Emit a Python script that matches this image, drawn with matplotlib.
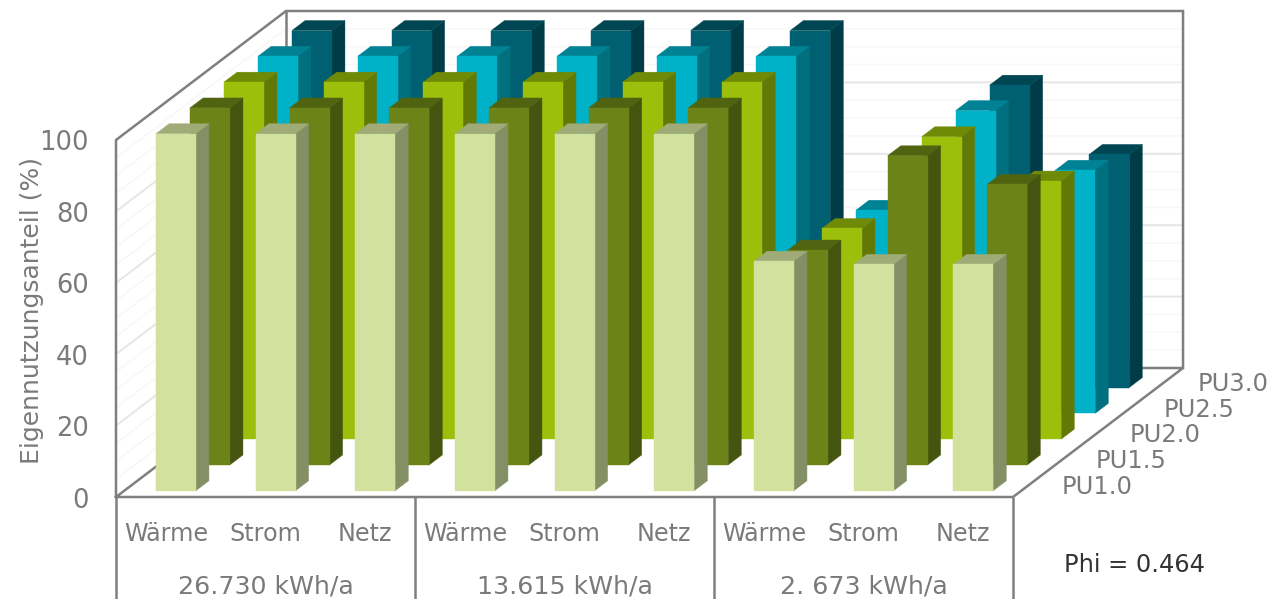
import matplotlib
matplotlib.use("Agg")
import matplotlib.pyplot as plt
from matplotlib.patches import Polygon

# Chart data
groups = ["26.730 kWh/a", "13.615 kWh/a", "2. 673 kWh/a"]
measures = ["Wärme", "Strom", "Netz"]
series_names = ["PU1.0", "PU1.5", "PU2.0", "PU2.5", "PU3.0"]
pu10 = [100, 100, 100, 100, 100, 100, 64.3, 63.4, 63.4]
pu15 = [100, 100, 100, 100, 100, 100, 60.2, 86.6, 78.6]
pu20 = [100, 100, 100, 100, 100, 100, 59.0, 84.7, 72.3]
pu25 = [100, 100, 100, 100, 100, 100, 56.9, 84.8, 68.1]
pu30 = [100, 100, 100, 100, 100, 100, 55.0, 84.7, 65.3]
series_values = [pu10, pu15, pu20, pu25, pu30]
value_ticks = [0, 20, 40, 60, 80, 100]
minor_ticks = [5, 10, 15, 25, 30, 35, 45, 50, 55, 65, 70, 75, 85, 90, 95]

# (front, side, top) shades per series
shades = [
    ("#D2E29E", "#858F65", "#A0AB78"),
    ("#6C8417", "#45540E", "#506311"),
    ("#9BBF0A", "#637906", "#6F8A06"),
    ("#00B2C8", "#00707F", "#008294"),
    ("#005F71", "#003C47", "#004652"),
]

# Oblique projection of the 3D column chart onto the page
ORIGIN_X, ORIGIN_Y = 116.0, 497.0
CAT_W = 99.67
ROW_DX, ROW_DY = 34.0, 25.8
UNIT_Y = 3.57
BAR_W = 0.40
BAR_START = 0.318
DEPTH_START, DEPTH_SIZE = 0.244, 0.385
N_CATS = len(pu10)
N_ROWS = len(series_names)
VMAX = value_ticks[-1]


def project(cat, depth, value):
    return (ORIGIN_X + cat * CAT_W + depth * ROW_DX,
            ORIGIN_Y - depth * ROW_DY - value * UNIT_Y)


fig = plt.figure(figsize=(12.72, 5.99), dpi=100)
ax = fig.add_axes([0, 0, 1, 1])
ax.set_xlim(0, 1272)
ax.set_ylim(599, 0)
ax.axis("off")

FRAME = "#7F7F7F"
TEXT = "#7A7A7A"


def wall_line(value, color, lw):
    pts = [project(0, 0, value), project(0, N_ROWS, value), project(N_CATS, N_ROWS, value)]
    ax.plot(*zip(*pts), color=color, lw=lw, zorder=1, solid_capstyle="butt")


for v in minor_ticks:
    wall_line(v, "#F8F8F8", 1.2)
for v in value_ticks[1:-1]:
    wall_line(v, "#E6E6E6", 1.4)

# Chart frame
frame_edges = [
    [(0, 0, 0), (0, 0, VMAX), (0, N_ROWS, VMAX), (N_CATS, N_ROWS, VMAX), (N_CATS, N_ROWS, 0)],
    [(0, N_ROWS, VMAX), (0, N_ROWS, 0)],
    [(0, 0, 0), (0, N_ROWS, 0), (N_CATS, N_ROWS, 0), (N_CATS, 0, 0), (0, 0, 0)],
]
for edge in frame_edges:
    ax.plot(*zip(*[project(*p) for p in edge]), color=FRAME, lw=1.8, zorder=1.5,
            solid_joinstyle="miter")

# Columns, back row first so nearer ones cover them
zorder = 2
for row in range(N_ROWS - 1, -1, -1):
    front_col, side_col, top_col = shades[row]
    d0 = row + DEPTH_START
    d1 = d0 + DEPTH_SIZE
    for cat, value in enumerate(series_values[row]):
        x0 = cat + BAR_START
        x1 = x0 + BAR_W
        front = [project(x0, d0, 0), project(x1, d0, 0), project(x1, d0, value), project(x0, d0, value)]
        side = [project(x1, d0, 0), project(x1, d1, 0), project(x1, d1, value), project(x1, d0, value)]
        top = [project(x0, d0, value), project(x1, d0, value), project(x1, d1, value), project(x0, d1, value)]
        for pts, col in ((side, side_col), (top, top_col), (front, front_col)):
            ax.add_patch(Polygon(pts, closed=True, facecolor=col, edgecolor=col, lw=0.3, zorder=zorder))
        zorder += 0.01

# Value axis
for v in value_ticks:
    x, y = project(0, 0, v)
    ax.text(x - 27, y + 3.5, str(v), ha="right", va="center", fontsize=18.5, color=TEXT)
ax.text(32, 310, "Eigennutzungsanteil (%)", rotation=90, ha="center", va="center",
        fontsize=18, color=TEXT)

# Series labels on the depth axis
for row, name in enumerate(series_names):
    x, y = project(N_CATS, row, 0)
    ax.text(x + 49, y - 10, name, ha="left", va="center", fontsize=17.5, color=TEXT)

# Two-level category table below the floor
for g in range(len(groups) + 1):
    x, y = project(g * len(measures), 0, 0)
    ax.plot([x, x], [y, 599], color=FRAME, lw=1.8, zorder=1.5, solid_capstyle="butt")
for g, group in enumerate(groups):
    for m, measure in enumerate(measures):
        x, y = project(g * len(measures) + m + 0.5, 0, 0)
        ax.text(x, y + 37, measure, ha="center", va="center", fontsize=17.2, color=TEXT)
    x, y = project(g * len(measures) + 1.5, 0, 0)
    ax.text(x, y + 89, group, ha="center", va="center", fontsize=18.2, color=TEXT)

ax.text(1135, 565.5, "Phi = 0.464", ha="center", va="center", fontsize=17.4, color="#333333")

fig.savefig("out.png", dpi=100)
